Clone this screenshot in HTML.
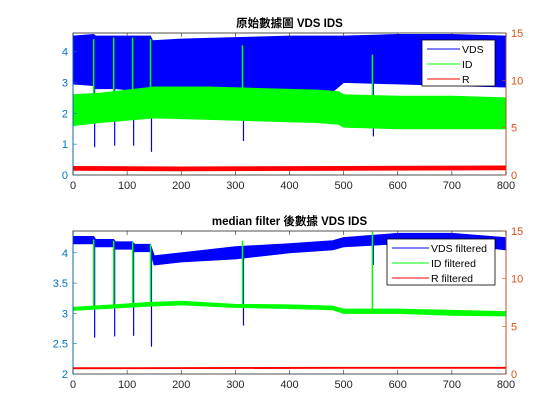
<!DOCTYPE html>
<html><head><meta charset="utf-8">
<style>
html,body{margin:0;padding:0;background:#fff;width:560px;height:420px;overflow:hidden}
svg text{font-family:"Liberation Sans","Noto Sans CJK TC",sans-serif}
</style></head>
<body>
<svg id="fig" width="560" height="420" xmlns="http://www.w3.org/2000/svg"></svg>
<script>
// ---- data ----
const xTicks = [0,100,200,300,400,500,600,700,800];
const rightTicks = [0,5,10,15];
// top plot
const topLeftTicks = [0,1,2,3,4];
const vdsX   = [0,38,42,75,79,110,114,143,147,200,300,400,480,500,600,700,800];
const vdsHi  = [4.5,4.55,4.5,4.5,4.5,4.5,4.5,4.5,4.35,4.4,4.45,4.5,4.5,4.5,4.55,4.55,4.5];
const vdsLo  = [2.95,2.9,2.8,2.8,2.8,2.75,2.75,2.75,2.75,2.8,2.75,2.75,2.7,3.0,2.95,2.9,2.85];
const idX    = [0,50,150,250,350,450,490,500,600,700,800];
const idHi   = [2.6,2.65,2.85,2.85,2.8,2.75,2.7,2.6,2.55,2.55,2.5];
const idLo   = [1.6,1.7,1.85,1.8,1.75,1.7,1.65,1.55,1.5,1.5,1.5];
const rX     = [0,200,500,800];
const rHi    = [0.9,0.85,0.9,0.95];
const rLo    = [0.5,0.45,0.5,0.55];
const spikeX      = [40,77,112,145,315,555];
const vdsSpikeMin = [0.9,0.95,0.95,0.75,1.1,1.25];
const idSpikeMax  = [4.4,4.45,4.45,4.4,4.2,3.9];
// bottom plot
const botLeftTicks = [2,2.5,3,3.5,4];
const fVdsX  = [0,38,42,75,79,110,114,143,150,200,300,400,480,500,600,700,800];
const fVdsHi = [4.27,4.27,4.22,4.22,4.18,4.18,4.14,4.14,3.95,4.0,4.1,4.15,4.2,4.25,4.32,4.32,4.25];
const fVdsLo = [4.15,4.15,4.1,4.1,4.06,4.06,4.02,4.02,3.8,3.85,3.9,4.0,4.05,4.1,4.15,4.15,4.05];
const fIdX   = [0,140,200,300,400,480,500,600,700,800];
const fIdHi  = [3.1,3.18,3.2,3.15,3.14,3.12,3.07,3.07,3.05,3.03];
const fIdLo  = [3.05,3.12,3.14,3.1,3.08,3.06,3.0,3.0,2.97,2.96];
const fRX    = [0,500,800];
const fRHi   = [0.65,0.7,0.7];
const fRLo   = [0.55,0.6,0.6];
const fVdsSpikeMin = [2.6,2.62,2.63,2.45,2.8,3.8];
const fIdSpikeMax  = [4.22,4.2,4.18,4.14,4.2,4.35];

const NS="http://www.w3.org/2000/svg";
const svg=document.getElementById('fig');
function el(t,a,p){const e=document.createElementNS(NS,t);for(const k in a)e.setAttribute(k,a[k]);(p||svg).appendChild(e);return e;}
function interp(xs,ys,x){
  if(x<=xs[0])return ys[0];
  for(let i=1;i<xs.length;i++){if(x<=xs[i]){const t=(x-xs[i-1])/(xs[i]-xs[i-1]);return ys[i-1]+t*(ys[i]-ys[i-1]);}}
  return ys[ys.length-1];
}

function panel(o){
  const g=el('g',{});
  
  
  const X=v=>o.x0+(o.x1-o.x0)*v/800;
  const Y=v=>o.y1-(o.y1-o.y0)*(v-o.lmin)/(o.lmax-o.lmin);
  const YR=v=>o.y1-(o.y1-o.y0)*v/15;
  el('rect',{x:o.x0,y:o.y0,width:o.x1-o.x0,height:o.y1-o.y0,fill:'#fff'},g);
  function band(xs,hi,lo,yf,col,nm){
    let pts=xs.map((x,i)=>X(x)+','+yf(hi[i]));
    for(let i=xs.length-1;i>=0;i--)pts.push(X(xs[i])+','+yf(lo[i]));
    const p=el('polygon',{points:pts.join(' '),fill:col,stroke:col,'stroke-width':1},g);
    
    
  }
  band(o.vx,o.vh,o.vl,Y,'#0000ff','vds-band');
  spikeX.forEach((s,i)=>{
    const a=el('line',{x1:X(s),x2:X(s),y1:Y(interp(o.vx,o.vl,s)),y2:Y(o.vmin[i]),stroke:'#0000ff','stroke-width':1.2},g);
    
    
  });
  band(o.ix,o.ih,o.il,Y,'#00ff00','id-band');
  spikeX.forEach((s,i)=>{
    const b=el('line',{x1:X(s)-1,x2:X(s)-1,y1:Y(interp(o.ix,o.ih,s)),y2:Y(o.imax[i]),stroke:'#00ff00','stroke-width':1.5},g);
    
    
  });
  band(o.rx,o.rh,o.rl,YR,'#ff0000','r-band');
  // axes box
  el('rect',{x:o.x0,y:o.y0,width:o.x1-o.x0,height:o.y1-o.y0,fill:'none',stroke:'#262626','stroke-width':0.8},g);
  el('line',{x1:o.x0,x2:o.x0,y1:o.y0,y2:o.y1,stroke:'#0072bd','stroke-width':0.8},g);
  el('line',{x1:o.x1,x2:o.x1,y1:o.y0,y2:o.y1,stroke:'#d95319','stroke-width':0.8},g);
  xTicks.forEach(t=>{
    el('line',{x1:X(t),x2:X(t),y1:o.y1,y2:o.y1-4,stroke:'#262626','stroke-width':0.6},g);
    el('line',{x1:X(t),x2:X(t),y1:o.y0,y2:o.y0+4,stroke:'#262626','stroke-width':0.6},g);
    const tx=el('text',{x:X(t),y:o.y1+14,'font-size':11,'text-anchor':'middle',fill:'#262626'},g);
    tx.textContent=t;
    
    
  });
  o.lt.forEach(t=>{
    el('line',{x1:o.x0,x2:o.x0+4,y1:Y(t),y2:Y(t),stroke:'#0072bd','stroke-width':0.6},g);
    const tx=el('text',{x:o.x0-5,y:Y(t)+4,'font-size':11,'text-anchor':'end',fill:'#0072bd'},g);
    tx.textContent=t;
    
    
  });
  rightTicks.forEach(t=>{
    el('line',{x1:o.x1,x2:o.x1-4,y1:YR(t),y2:YR(t),stroke:'#d95319','stroke-width':0.6},g);
    const tx=el('text',{x:o.x1+5,y:YR(t)+4,'font-size':11,fill:'#d95319'},g);
    tx.textContent=t;
    
    
  });
  const ti=el('text',{x:(o.x0+o.x1)/2,y:o.y0-6,'font-size':11.5,'font-weight':'bold','text-anchor':'middle',fill:'#000'},g);
  ti.textContent=o.title;
  
  
  // legend
  const L=o.leg;
  const lg=el('g',{},g);
  
  
  el('rect',{x:L.x,y:L.y,width:L.w,height:L.h,fill:'#fff',stroke:'#000','stroke-width':0.8},lg);
  const cols=['#0000ff','#00ff00','#ff0000'];
  L.labels.forEach((lb,i)=>{
    const yy=L.y+9+i*15;
    const ln=el('line',{x1:L.x+5,x2:L.x+L.lw,y1:yy,y2:yy,stroke:cols[i],'stroke-width':1},lg);
    
    
    const tx=el('text',{x:L.x+L.lw+2,y:yy+4,'font-size':10.5,fill:'#000'},lg);
    tx.textContent=lb;
    
    
  });
}
panel({name:'raw-data-chart',x0:73,x1:506,y0:33,y1:175,lmin:0,lmax:4.6,lt:topLeftTicks,
  title:'原始數據圖 VDS IDS',
  vx:vdsX,vh:vdsHi,vl:vdsLo,ix:idX,ih:idHi,il:idLo,rx:rX,rh:rHi,rl:rLo,
  vmin:vdsSpikeMin,imax:idSpikeMax,
  leg:{x:422,y:40,w:73,h:46,lw:38,labels:['VDS','ID','R']}});
panel({name:'filtered-data-chart',x0:73,x1:506,y0:231,y1:374,lmin:2,lmax:4.36,lt:botLeftTicks,
  title:'median filter 後數據 VDS IDS',
  vx:fVdsX,vh:fVdsHi,vl:fVdsLo,ix:fIdX,ih:fIdHi,il:fIdLo,rx:fRX,rh:fRHi,rl:fRLo,
  vmin:fVdsSpikeMin,imax:fIdSpikeMax,
  leg:{x:387,y:239,w:108,h:46,lw:42,labels:['VDS filtered','ID filtered','R filtered']}});
</script>
</body></html>
